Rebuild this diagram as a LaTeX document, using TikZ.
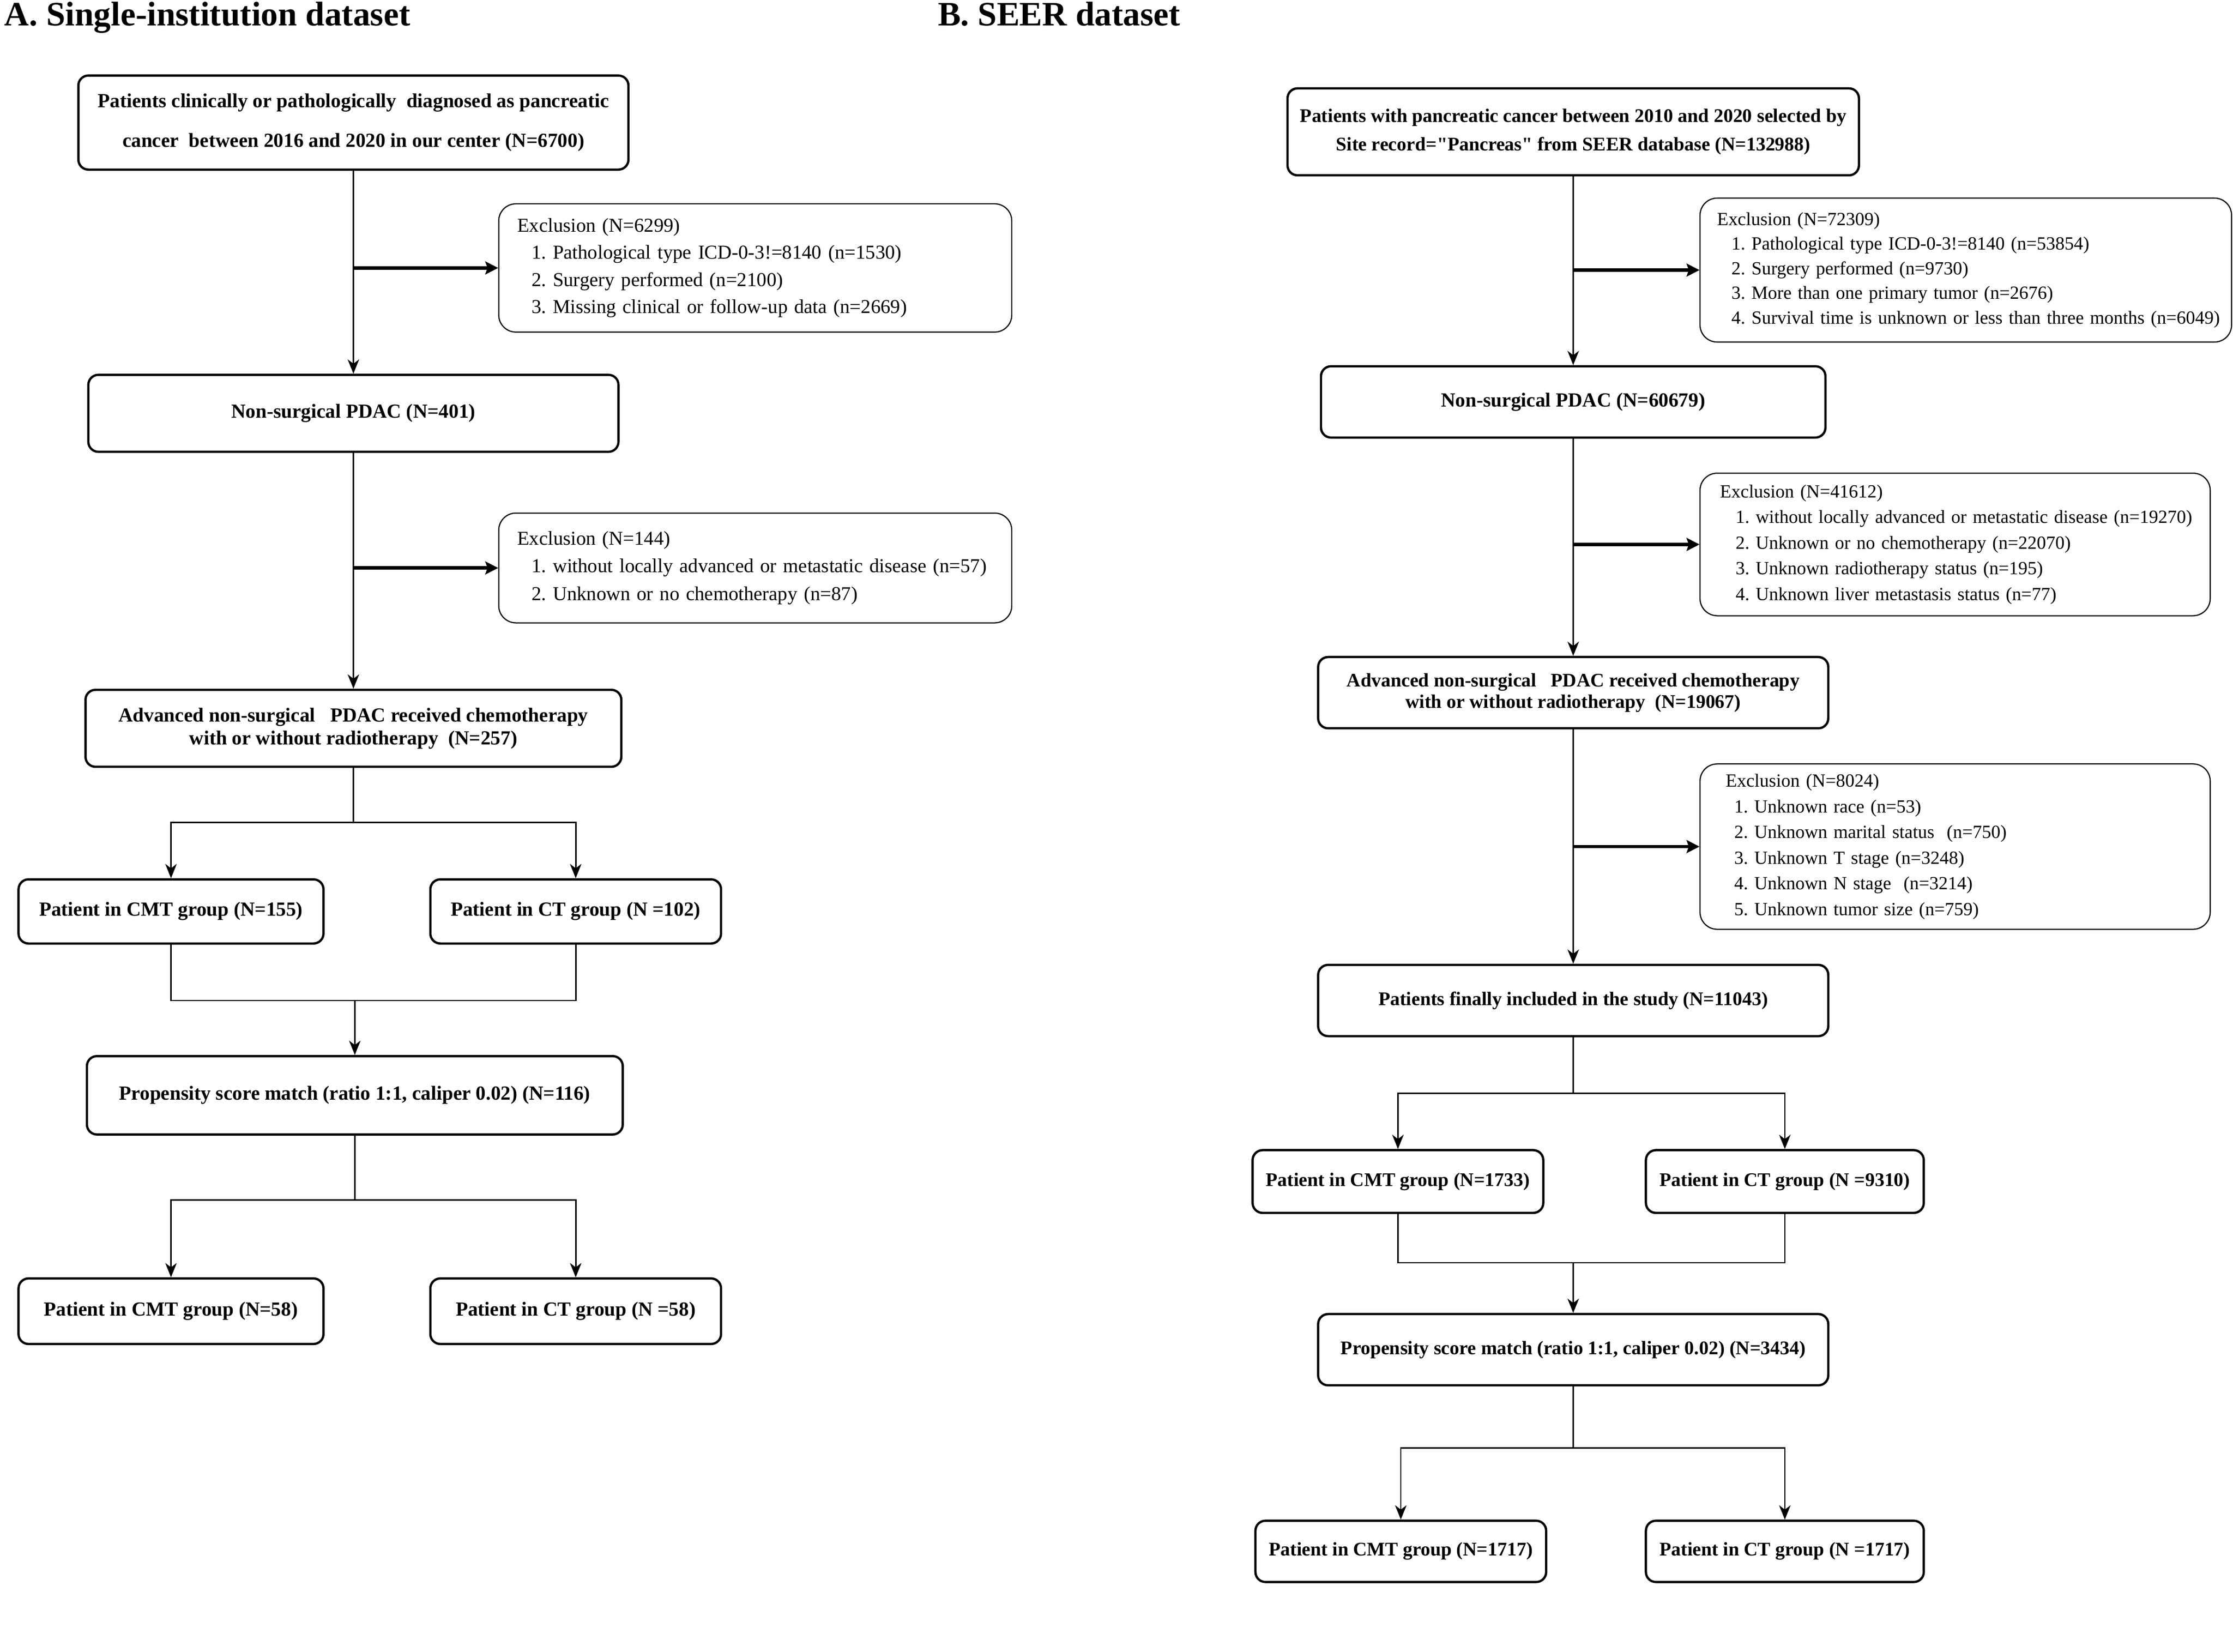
\documentclass[tikz,border=0pt]{standalone}
\usepackage{fontspec}
\setmainfont{Liberation Serif}
\newfontfamily\rawquote{Liberation Serif}[Ligatures=TeXOff]
\usetikzlibrary{arrows.meta,positioning}
\frenchspacing

\tikzset{
  mainbox/.style={draw, line width=1.6pt, rounded corners=7pt, align=center,
    inner sep=2pt, font=\bfseries\fontsize{14}{16}\selectfont},
  exclbox/.style={draw, line width=0.8pt, rounded corners=12pt, align=left,
    inner xsep=13pt, font=\fontsize{13.8}{19}\selectfont},
  link/.style={line width=1pt},
  flow/.style={line width=1pt, -{Stealth[length=10pt,width=8pt,inset=3pt]}},
  exflow/.style={line width=2.4pt, -{Stealth[length=9pt,width=9pt,inset=1.5pt]}},
  paneltitle/.style={anchor=base west, inner sep=0pt, font=\bfseries\fontsize{24}{28}\selectfont}
}

\begin{document}
\begin{tikzpicture}[x=1pt,y=-1pt]
    \useasboundingbox (0,0) rectangle (1567,1159);

    % panel A
    \node[paneltitle] (titA) at (3,18) {A. Single-institution dataset};

    \node[mainbox, minimum width=386pt, minimum height=66pt,
          font=\bfseries\fontsize{14}{28}\selectfont] (inc) at (248,86)
          {Patients clinically or pathologically\ \ diagnosed as pancreatic\\
           cancer\ \ between 2016 and 2020 in our center (N=6700)};
    \node[exclbox, minimum width=360pt, minimum height=90pt, text width=334pt] (ex1) at (530,188)
          {Exclusion (N=6299)\\
           \hspace*{10pt}1. Pathological type ICD-0-3!=8140 (n=1530)\\
           \hspace*{10pt}2. Surgery performed (n=2100)\\
           \hspace*{10pt}3. Missing clinical or follow-up data (n=2669)};
    \node[mainbox, minimum width=372pt, minimum height=54pt] (pdac) at (248,290)
          {Non-surgical PDAC (N=401)};
    \node[exclbox, minimum width=360pt, minimum height=77pt, text width=334pt,
          font=\fontsize{13.8}{19.5}\selectfont] (ex2) at (530,398.5)
          {Exclusion (N=144)\\
           \hspace*{10pt}1. without locally advanced or metastatic disease (n=57)\\
           \hspace*{10pt}2. Unknown or no chemotherapy (n=87)};
    \node[mainbox, minimum width=376pt, minimum height=54pt] (adv) at (248,511)
          {Advanced non-surgical\ \ \ PDAC received chemotherapy\\
           with or without radiotherapy\enspace(N=257)};
    \node[mainbox, minimum width=214pt, minimum height=45pt] (cmt1) at (120,639.5)
          {Patient in CMT group (N=155)};
    \node[mainbox, minimum width=204pt, minimum height=45pt] (ct1) at (404,639.5)
          {Patient in CT group (N =102)};
    \node[mainbox, minimum width=376pt, minimum height=55pt] (psm) at (249,768.5)
          {Propensity score match (ratio 1:1, caliper 0.02) (N=116)};
    \node[mainbox, minimum width=214pt, minimum height=46pt] (cmt2) at (120,920)
          {Patient in CMT group (N=58)};
    \node[mainbox, minimum width=204pt, minimum height=46pt] (ct2) at (404,920)
          {Patient in CT group (N =58)};

    \coordinate (sA1) at (248,577);
    \coordinate (mA1) at (249,702);
    \coordinate (sA2) at (249,842);

    \draw[flow] (inc) -- (pdac);
    \draw[exflow] (inc.south |- ex1.west) -- (ex1.west);
    \draw[flow] (pdac) -- (adv);
    \draw[exflow] (pdac.south |- ex2.west) -- (ex2.west);
    \draw[link] (adv.south) -- (sA1);
    \draw[flow] (sA1) -| (cmt1.north);
    \draw[flow] (sA1) -| (ct1.north);
    \draw[link] (cmt1.south) |- (mA1) -| (ct1.south);
    \draw[flow] (mA1) -- (psm.north);
    \draw[link] (psm.south) -- (sA2);
    \draw[flow] (sA2) -| (cmt2.north);
    \draw[flow] (sA2) -| (ct2.north);

    % panel B
    \node[paneltitle] (titB) at (658,18) {B. SEER dataset};

    \node[mainbox, minimum width=401pt, minimum height=61pt,
          font=\bfseries\fontsize{13.5}{20}\selectfont] (rinc) at (1104,92.5)
          {Patients with pancreatic cancer between 2010 and 2020 selected by\\
           Site record={\rawquote"}Pancreas{\rawquote"} from SEER database (N=132988)};
    \node[exclbox, minimum width=373pt, minimum height=101pt, text width=349pt,
          inner xsep=12pt, font=\fontsize{13}{17.3}\selectfont] (rex1) at (1379.5,189.5)
          {Exclusion (N=72309)\\
           \hspace*{10pt}1. Pathological type ICD-0-3!=8140 (n=53854)\\
           \hspace*{10pt}2. Surgery performed (n=9730)\\
           \hspace*{10pt}3. More than one primary tumor (n=2676)\\
           \hspace*{10pt}\mbox{4. Survival time is unknown or less than three months (n=6049)}};
    \node[mainbox, minimum width=354pt, minimum height=50pt] (rpdac) at (1104,282)
          {Non-surgical PDAC (N=60679)};
    \node[exclbox, minimum width=358pt, minimum height=100pt, text width=330pt,
          inner xsep=14pt, font=\fontsize{13}{18}\selectfont] (rex2) at (1372,382)
          {Exclusion (N=41612)\\
           \hspace*{11pt}\mbox{1. without locally advanced or metastatic disease (n=19270)}\\
           \hspace*{11pt}2. Unknown or no chemotherapy (n=22070)\\
           \hspace*{11pt}3. Unknown radiotherapy status (n=195)\\
           \hspace*{11pt}4. Unknown liver metastasis status (n=77)};
    \node[mainbox, minimum width=358pt, minimum height=50pt,
          font=\bfseries\fontsize{13.5}{15}\selectfont] (radv) at (1104,486)
          {Advanced non-surgical\ \ \ PDAC received chemotherapy\\
           with or without radiotherapy\enspace(N=19067)};
    \node[exclbox, minimum width=358pt, minimum height=116pt, text width=322pt,
          inner xsep=18pt, font=\fontsize{13}{18}\selectfont] (rex3) at (1372,594)
          {Exclusion (N=8024)\\
           \hspace*{6pt}1. Unknown race (n=53)\\
           \hspace*{6pt}2. Unknown marital status\ \ (n=750)\\
           \hspace*{6pt}3. Unknown T stage (n=3248)\\
           \hspace*{6pt}4. Unknown N stage\ \ (n=3214)\\
           \hspace*{6pt}5. Unknown tumor size (n=759)};
    \node[mainbox, minimum width=358pt, minimum height=50pt,
          font=\bfseries\fontsize{13.5}{16}\selectfont] (rfin) at (1104,702)
          {Patients finally included in the study (N=11043)};
    \node[mainbox, minimum width=204pt, minimum height=44pt,
          font=\bfseries\fontsize{13.5}{16}\selectfont] (rcmt1) at (981,829)
          {Patient in CMT group (N=1733)};
    \node[mainbox, minimum width=195pt, minimum height=44pt,
          font=\bfseries\fontsize{13.5}{16}\selectfont] (rct1) at (1252.5,829)
          {Patient in CT group (N =9310)};
    \node[mainbox, minimum width=358pt, minimum height=50pt,
          font=\bfseries\fontsize{13.5}{16}\selectfont] (rpsm) at (1104,947)
          {Propensity score match (ratio 1:1, caliper 0.02) (N=3434)};
    \node[mainbox, minimum width=204pt, minimum height=43pt,
          font=\bfseries\fontsize{13.5}{16}\selectfont] (rcmt2) at (983,1088.5)
          {Patient in CMT group (N=1717)};
    \node[mainbox, minimum width=195pt, minimum height=43pt,
          font=\bfseries\fontsize{13.5}{16}\selectfont] (rct2) at (1252.5,1088.5)
          {Patient in CT group (N =1717)};

    \coordinate (sB1) at (1104,767);
    \coordinate (mB1) at (1104,886);
    \coordinate (sB2) at (1104,1016);

    \draw[flow] (rinc) -- (rpdac);
    \draw[exflow] (rinc.south |- rex1.west) -- (rex1.west);
    \draw[flow] (rpdac) -- (radv);
    \draw[exflow] (rpdac.south |- rex2.west) -- (rex2.west);
    \draw[flow] (radv) -- (rfin);
    \draw[exflow] (radv.south |- rex3.west) -- (rex3.west);
    \draw[link] (rfin.south) -- (sB1);
    \draw[flow] (sB1) -| (rcmt1.north);
    \draw[flow] (sB1) -| (rct1.north);
    \draw[link] (rcmt1.south) |- (mB1) -| (rct1.south);
    \draw[flow] (mB1) -- (rpsm.north);
    \draw[link] (rpsm.south) -- (sB2);
    \draw[flow] (sB2) -| (rcmt2.north);
    \draw[flow] (sB2) -| (rct2.north);
\end{tikzpicture}
\end{document}
